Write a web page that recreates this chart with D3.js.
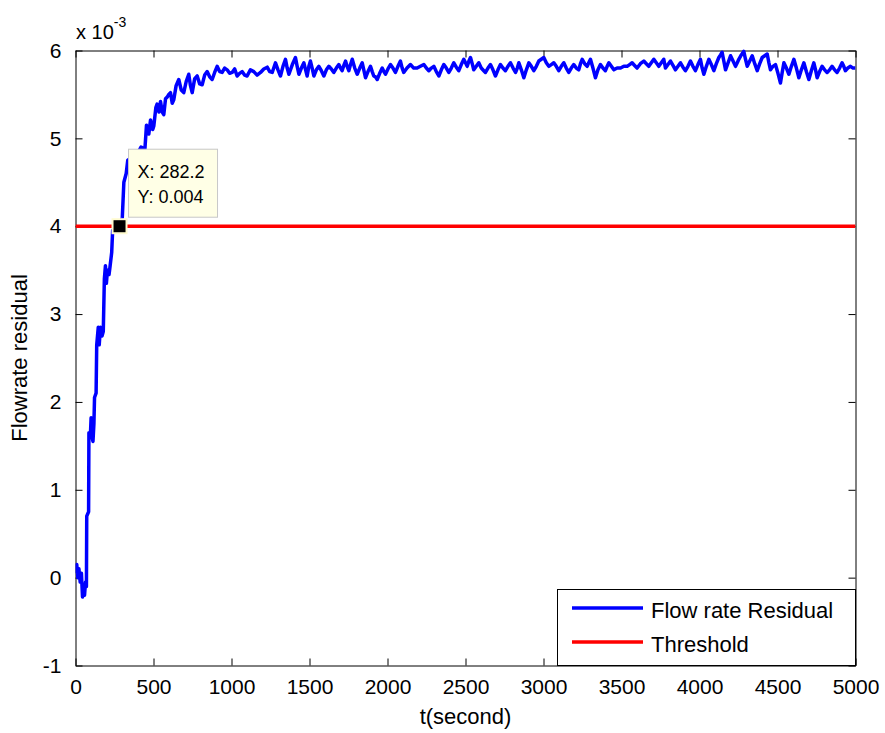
<!DOCTYPE html>
<html>
<head>
<meta charset="utf-8">
<script src="https://cdn.jsdelivr.net/npm/d3@7"></script>
<style>
  html, body { margin: 0; padding: 0; background: #fff; }
  svg { display: block; font-family: Arial, "Liberation Sans", sans-serif; }
</style>
</head>
<body>
<svg id="chart" width="885" height="733"></svg>
<script>
// ---- data (residual in units of 1e-3) ----
const time_s = [0,8,15,22,30,38,45,52,58,64,70,72,84,86,95,100,106,112,118,122,132,136,146,152,160,170,178,185,192,198,205,215,222,232,238,260,282,300,310,325,335,360,390,420,445,455,470,481,495,502,515,523,535,545,556,566,577,588,598,609,620,630,645,662,678,694,710,726,737,748,764,780,796,812,828,844,860,876,892,908,924,940,956,972,988,1004,1020,1036,1052,1068,1084,1100,1121,1143,1164,1186,1207,1229,1245,1261,1282,1298,1314,1330,1346,1357,1368,1390,1410,1421,1432,1448,1464,1475,1485,1496,1506,1517,1528,1544,1560,1576,1592,1608,1624,1640,1656,1672,1688,1699,1709,1720,1731,1741,1752,1763,1774,1790,1806,1822,1838,1848,1859,1875,1891,1902,1912,1923,1934,1950,1966,1977,1987,2003,2019,2035,2051,2067,2083,2094,2104,2125,2147,2168,2190,2211,2233,2249,2265,2281,2297,2313,2329,2345,2361,2377,2393,2409,2425,2441,2457,2473,2489,2500,2511,2522,2532,2543,2553,2569,2585,2601,2617,2628,2644,2660,2676,2692,2708,2724,2740,2756,2772,2788,2805,2821,2832,2842,2858,2874,2890,2906,2922,2938,2954,2970,2986,3002,3018,3034,3050,3066,3082,3098,3114,3130,3146,3162,3178,3194,3210,3226,3237,3248,3264,3280,3290,3301,3317,3333,3349,3365,3381,3397,3408,3419,3435,3451,3472,3494,3515,3536,3552,3568,3584,3600,3621,3643,3659,3675,3691,3707,3723,3739,3755,3771,3782,3798,3814,3830,3846,3862,3878,3894,3910,3926,3942,3958,3974,3990,4006,4017,4028,4044,4060,4076,4092,4108,4124,4135,4145,4156,4167,4183,4199,4215,4231,4242,4252,4268,4284,4295,4306,4322,4338,4354,4370,4386,4402,4418,4434,4445,4455,4471,4487,4503,4519,4530,4541,4557,4573,4589,4605,4621,4637,4653,4669,4685,4701,4717,4733,4744,4754,4770,4786,4802,4818,4834,4850,4866,4882,4898,4914,4925,4935,4951,4968,4984,5000];
const residual_e3 = [0.05,0.15,0.0,0.1,-0.05,0.05,-0.22,-0.1,-0.2,-0.05,-0.1,0.7,0.75,1.65,1.6,1.82,1.6,1.55,1.75,2.05,2.1,2.65,2.85,2.65,2.85,2.75,2.8,3.4,3.55,3.35,3.5,3.45,3.55,3.7,3.95,4.0,4.0,4.1,4.5,4.6,4.75,4.78,4.8,4.9,4.88,5.15,5.05,5.21,5.1,5.14,5.35,5.39,5.3,5.42,5.3,5.27,5.45,5.47,5.5,5.52,5.4,5.44,5.6,5.67,5.55,5.52,5.65,5.73,5.6,5.52,5.68,5.71,5.62,5.61,5.72,5.76,5.7,5.67,5.75,5.82,5.76,5.75,5.8,5.78,5.74,5.75,5.79,5.71,5.74,5.76,5.72,5.71,5.78,5.76,5.72,5.75,5.79,5.81,5.76,5.75,5.86,5.78,5.71,5.82,5.9,5.8,5.73,5.84,5.92,5.82,5.73,5.8,5.86,5.78,5.71,5.82,5.88,5.8,5.71,5.78,5.82,5.77,5.71,5.78,5.82,5.79,5.75,5.8,5.84,5.8,5.77,5.83,5.88,5.82,5.77,5.84,5.9,5.8,5.73,5.8,5.86,5.78,5.69,5.76,5.82,5.76,5.71,5.7,5.67,5.74,5.8,5.76,5.73,5.79,5.84,5.8,5.75,5.82,5.88,5.8,5.75,5.8,5.84,5.8,5.8,5.82,5.84,5.8,5.77,5.8,5.82,5.76,5.71,5.78,5.84,5.8,5.75,5.8,5.86,5.81,5.77,5.84,5.9,5.86,5.82,5.88,5.92,5.85,5.78,5.82,5.86,5.8,5.77,5.75,5.8,5.84,5.78,5.71,5.78,5.84,5.8,5.77,5.82,5.86,5.8,5.75,5.8,5.86,5.78,5.69,5.78,5.86,5.82,5.77,5.82,5.88,5.9,5.92,5.86,5.82,5.84,5.86,5.82,5.77,5.82,5.86,5.8,5.75,5.8,5.84,5.8,5.78,5.85,5.9,5.85,5.82,5.86,5.9,5.8,5.69,5.78,5.84,5.8,5.77,5.82,5.86,5.82,5.78,5.8,5.8,5.82,5.82,5.84,5.86,5.83,5.8,5.85,5.88,5.85,5.82,5.86,5.9,5.86,5.82,5.86,5.9,5.8,5.84,5.88,5.83,5.78,5.82,5.86,5.81,5.77,5.82,5.88,5.82,5.77,5.84,5.9,5.8,5.73,5.82,5.9,5.84,5.77,5.85,5.92,5.95,5.98,5.88,5.78,5.86,5.94,5.88,5.82,5.86,5.9,5.95,5.99,5.9,5.82,5.88,5.94,5.85,5.77,5.85,5.92,5.94,5.96,5.86,5.78,5.82,5.84,5.74,5.63,5.75,5.86,5.8,5.73,5.82,5.9,5.8,5.69,5.78,5.86,5.76,5.67,5.77,5.86,5.78,5.69,5.76,5.82,5.78,5.75,5.78,5.82,5.78,5.75,5.8,5.86,5.82,5.77,5.8,5.82,5.8,5.8];
const threshold_e3 = 4;
const xTicks = [0,500,1000,1500,2000,2500,3000,3500,4000,4500,5000];
const yTicks = [-1,0,1,2,3,4,5,6];
const seriesNames = ["Flow rate Residual", "Threshold"];
const seriesColors = ["#0000ff", "#ff0000"];
const marker = { t: 282.2, v: 4.0, labelX: "X: 282.2", labelY: "Y: 0.004" };
const xLabel = "t(second)";
const yLabel = "Flowrate residual";

// ---- layout ----
const L = 75.5, R = 855.5, T = 50.5, B = 665.5;
const svg = d3.select("#chart");
const x = d3.scaleLinear().domain([0, 5000]).range([L, R]);
const y = d3.scaleLinear().domain([-1, 6]).range([B, T]);
const FONT = 21;
const tickLen = 7;

// clip
svg.append("defs").append("clipPath").attr("id", "clip")
  .append("rect").attr("x", L).attr("y", T - 3).attr("width", R - L).attr("height", B - T + 3);

// axes (MATLAB style: inward ticks on all sides)
const fmt = d => String(d);
const axB = d3.axisBottom(x).tickValues(xTicks).tickSizeInner(-tickLen).tickSizeOuter(0).tickPadding(14).tickFormat(fmt);
const axT = d3.axisTop(x).tickValues(xTicks).tickSizeInner(-tickLen).tickSizeOuter(0).tickFormat("");
const axL = d3.axisLeft(y).tickValues(yTicks).tickSizeInner(-tickLen).tickSizeOuter(0).tickPadding(14).tickFormat(fmt);
const axR = d3.axisRight(y).tickValues(yTicks).tickSizeInner(-tickLen).tickSizeOuter(0).tickFormat("");

function styleAxis(g) {
  g.select(".domain").attr("stroke", "#000").attr("stroke-width", 1);
  g.selectAll(".tick line").attr("stroke", "#000").attr("stroke-width", 1);
  g.selectAll(".tick text").attr("fill", "#000").attr("font-size", FONT).attr("font-family", "Arial, 'Liberation Sans', sans-serif");
}
svg.append("g").attr("transform", `translate(0,${B})`).call(axB).call(styleAxis);
svg.append("g").attr("transform", `translate(0,${T})`).call(axT).call(styleAxis);
svg.append("g").attr("transform", `translate(${L},0)`).call(axL).call(styleAxis);
svg.append("g").attr("transform", `translate(${R},0)`).call(axR).call(styleAxis);

// series
const data = time_s.map((t, i) => ({ t, v: residual_e3[i] }));
const plot = svg.append("g").attr("clip-path", "url(#clip)");
plot.append("path").datum(data)
  .attr("fill", "none").attr("stroke", seriesColors[0]).attr("stroke-width", 3.5)
  .attr("stroke-linejoin", "round")
  .attr("d", d3.line().x(d => x(d.t)).y(d => y(d.v)));
plot.append("line")
  .attr("x1", x(0)).attr("x2", x(5000)).attr("y1", y(threshold_e3)).attr("y2", y(threshold_e3))
  .attr("stroke", seriesColors[1]).attr("stroke-width", 3.5);

// data tip
const mx = x(marker.t), my = y(marker.v);
svg.append("rect").attr("x", mx - 8).attr("y", my - 8).attr("width", 16).attr("height", 16).attr("fill", "#fffbd0");
svg.append("rect").attr("x", mx - 6).attr("y", my - 6).attr("width", 12).attr("height", 12).attr("fill", "#000");
const tip = svg.append("g");
tip.append("rect").attr("x", mx + 9).attr("y", my - 77).attr("width", 89).attr("height", 68)
  .attr("fill", "#ffffe6").attr("stroke", "#c8c8c8").attr("stroke-width", 1);
tip.append("text").attr("x", mx + 18).attr("y", my - 48).attr("font-size", 18).text(marker.labelX);
tip.append("text").attr("x", mx + 18).attr("y", my - 23).attr("font-size", 18).text(marker.labelY);

// exponent label (single text with superscript tspan)
const ex = svg.append("text").attr("x", 76).attr("y", 39).attr("font-size", 20);
ex.append("tspan").text("x 10");
ex.append("tspan").attr("dx", 0).attr("dy", -12).attr("font-size", 14).text("-3");

// axis titles
svg.append("text").attr("x", (L + R) / 2).attr("y", 724).attr("text-anchor", "middle").attr("font-size", 22).text(xLabel);
svg.append("text").attr("transform", `translate(27,${(T + B) / 2}) rotate(-90)`).attr("text-anchor", "middle").attr("font-size", 22).text(yLabel);

// legend
const lg = svg.append("g");
lg.append("rect").attr("x", 557.5).attr("y", 589.5).attr("width", R - 557.5).attr("height", B - 589.5)
  .attr("fill", "#fff").attr("stroke", "#000").attr("stroke-width", 1);
seriesNames.forEach((name, i) => {
  const yy = 608 + i * 34;
  lg.append("line").attr("x1", 572).attr("x2", 643).attr("y1", yy).attr("y2", yy)
    .attr("stroke", seriesColors[i]).attr("stroke-width", 3.5);
  lg.append("text").attr("x", 651).attr("y", yy + 10).attr("font-size", 22).text(name);
});
</script>
</body>
</html>
